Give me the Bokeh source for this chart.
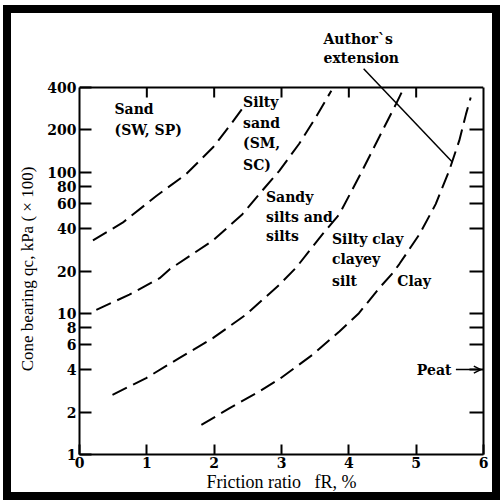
import math
from bokeh.plotting import figure
from bokeh.models import (Range1d, LogAxis, FixedTicker, Label, Arrow, Title,
                          OpenHead, CustomJSTickFormatter)
from bokeh.embed import file_html
from bokeh.resources import INLINE

# ---------------- data ----------------
x_ticks = [0, 1, 2, 3, 4, 5, 6]
y_ticks = [1, 2, 4, 6, 8, 10, 20, 40, 60, 80, 100, 200, 400]
top_ticks = [1, 2, 3, 4, 5]
right_ticks = [2, 4, 6, 8, 10, 20, 40, 60, 80, 100, 200]
x_min, x_max = 0, 6
y_min, y_max = 1, 400

# boundary Sand / Silty sand
b1_x = [0.20, 0.64, 1.14, 1.58, 1.98, 2.23, 2.45]
b1_y = [33, 44, 68, 97, 150, 214, 297]
# boundary Silty sand / Sandy silts
b2_x = [0.25, 0.74, 1.19, 1.34, 1.98, 2.42, 2.67, 2.97, 3.26, 3.51, 3.74]
b2_y = [10.6, 13.6, 17.8, 20.6, 32.8, 50.6, 70.2, 103, 159, 246, 380]
# boundary Sandy silts / Silty clay
b3_x = [0.49, 0.99, 1.48, 1.98, 2.47, 2.97, 3.22, 3.61, 3.86, 4.20, 4.50, 4.70, 4.82]
b3_y = [2.65, 3.48, 4.82, 6.68, 9.79, 16.0, 21.2, 36.5, 50.6, 103, 198, 305, 400]
# boundary Silty clay / Clay (with author's extension)
b4_x = [1.81, 2.23, 2.67, 2.97, 3.46, 3.86, 4.15, 4.45, 4.65, 4.75, 5.05, 5.29, 5.49, 5.64, 5.74, 5.81]
b4_y = [1.62, 2.13, 2.80, 3.43, 5.09, 7.45, 10.05, 15.1, 19.3, 22.4, 36.5, 59.6, 103, 168, 259, 340]

author_line_x = [4.22, 5.54]
author_line_y = [543, 118]
peat_arrow_x = [5.59, 5.96]
peat_arrow_y = [4, 4]

# ---------------- layout ----------------
FRAME_H_DATA = 367      # px used by 1..400
FRAME_H_TOTAL = 388     # frame extends above 400 so the leader line can start there
y_top = y_max ** (FRAME_H_TOTAL / FRAME_H_DATA)
px_per_decade = FRAME_H_DATA / math.log10(y_max)

p = figure(width=497, height=495, x_range=Range1d(x_min, x_max), y_range=Range1d(y_min, y_top),
           y_axis_type="log", output_backend="svg", toolbar_location=None,
           min_border_left=76, min_border_right=17, min_border_top=61, min_border_bottom=46)
p.styles = {"position": "relative", "left": "3px", "top": "5px",
            "outline": "8px solid black", "outline-offset": "-8px",
            "box-shadow": "inset 0 0 0 8px black"}
p.grid.visible = False
p.outline_line_color = None
p.background_fill_color = "white"
p.border_fill_color = None

FONT = "DejaVu Serif"
TITLE_FONT = "Liberation Serif"
NBSP = "\u00a0"

def style_axis(ax, tick_in, labels=True):
    ax.major_tick_in = tick_in
    ax.major_tick_out = 0
    ax.minor_tick_line_color = None
    ax.axis_line_width = 2
    ax.axis_line_color = "black"
    ax.major_tick_line_width = 2
    ax.major_tick_line_color = "black"
    if labels:
        ax.major_label_text_font = FONT
        ax.major_label_text_font_style = "bold"
        ax.major_label_text_font_size = "14px"
        ax.major_label_text_color = "black"
    else:
        ax.formatter = CustomJSTickFormatter(code="return ''")
        ax.major_label_text_font_size = "0px"

xa = p.xaxis[0]
xa.ticker = FixedTicker(ticks=x_ticks)
style_axis(xa, 10)
xa.major_label_standoff = 2
xa.axis_label = "Friction ratio" + NBSP * 3 + "fR, %"
xa.axis_label_text_font = TITLE_FONT
xa.axis_label_text_font_style = "normal"
xa.axis_label_text_font_size = "18px"
xa.axis_label_text_color = "black"
xa.axis_label_standoff = 1

ya = p.yaxis[0]
ya.ticker = FixedTicker(ticks=y_ticks)
ya.bounds = (y_min, y_max)
style_axis(ya, 12)
ya.major_label_standoff = 3
ya.axis_label = "Cone bearing qc, kPa ( \u00d7 100)" + NBSP * 4
ya.axis_label_text_font = TITLE_FONT
ya.axis_label_text_font_style = "normal"
ya.axis_label_text_font_size = "17px"
ya.axis_label_text_color = "black"
ya.axis_label_standoff = 7

right_axis = LogAxis(ticker=FixedTicker(ticks=right_ticks), bounds=(y_min, y_max))
style_axis(right_axis, 14, labels=False)
p.add_layout(right_axis, "right")

# top edge of the box at y = 400, with inward ticks
p.line([x_min, x_max], [y_max, y_max], line_color="black", line_width=2)
tick_len = 10 / px_per_decade
p.segment(x0=top_ticks, y0=[y_max] * len(top_ticks), x1=top_ticks,
          y1=[y_max / 10 ** tick_len] * len(top_ticks), line_color="black", line_width=2)

# ---------------- curves ----------------
for bx, by in [(b1_x, b1_y), (b2_x, b2_y), (b3_x, b3_y), (b4_x, b4_y)]:
    p.line(bx, by, line_color="black", line_width=2, line_dash="16 7")

p.add_layout(Arrow(end=None, x_start=author_line_x[0], y_start=author_line_y[0],
                   x_end=author_line_x[1], y_end=author_line_y[1],
                   line_color="black", line_width=1.5))
p.add_layout(Arrow(end=OpenHead(size=7, line_width=1.5, line_color="black"),
                   x_start=peat_arrow_x[0], y_start=peat_arrow_y[0],
                   x_end=peat_arrow_x[1], y_end=peat_arrow_y[1],
                   line_color="black", line_width=1.5))

# ---------------- zone labels ----------------
def lab(text, x, y, size="14px", style="bold"):
    p.add_layout(Label(x=x, y=y, text=text, text_font=FONT, text_font_style=style,
                       text_font_size=size, text_color="black", text_align="left",
                       text_baseline="middle"))

lab("Sand", 0.52, 281)
lab("(SW, SP)", 0.52, 201)
lab("Silty", 2.43, 314)
lab("sand", 2.43, 223)
lab("(SM,", 2.43, 161)
lab("SC)", 2.43, 113.5)
lab("Sandy", 2.77, 66.5)
lab("silts and", 2.77, 48)
lab("silts", 2.77, 35.2)
lab("Silty clay", 3.75, 33.6)
lab("clayey", 3.75, 24.3)
lab("silt", 3.75, 17.1)
lab("Clay", 4.72, 17.1)
lab("Peat", 5.01, 4.0)

# "Author`s extension" above the frame
p.add_layout(Title(text="extension", align="left", offset=244, standoff=1,
                   text_font=FONT, text_font_style="bold", text_font_size="14px",
                   text_color="black"), "above")
p.add_layout(Title(text="Author`s", align="left", offset=244, standoff=2,
                   text_font=FONT, text_font_style="bold", text_font_size="14px",
                   text_color="black"), "above")

open("out.html", "w").write(file_html(p, INLINE))
